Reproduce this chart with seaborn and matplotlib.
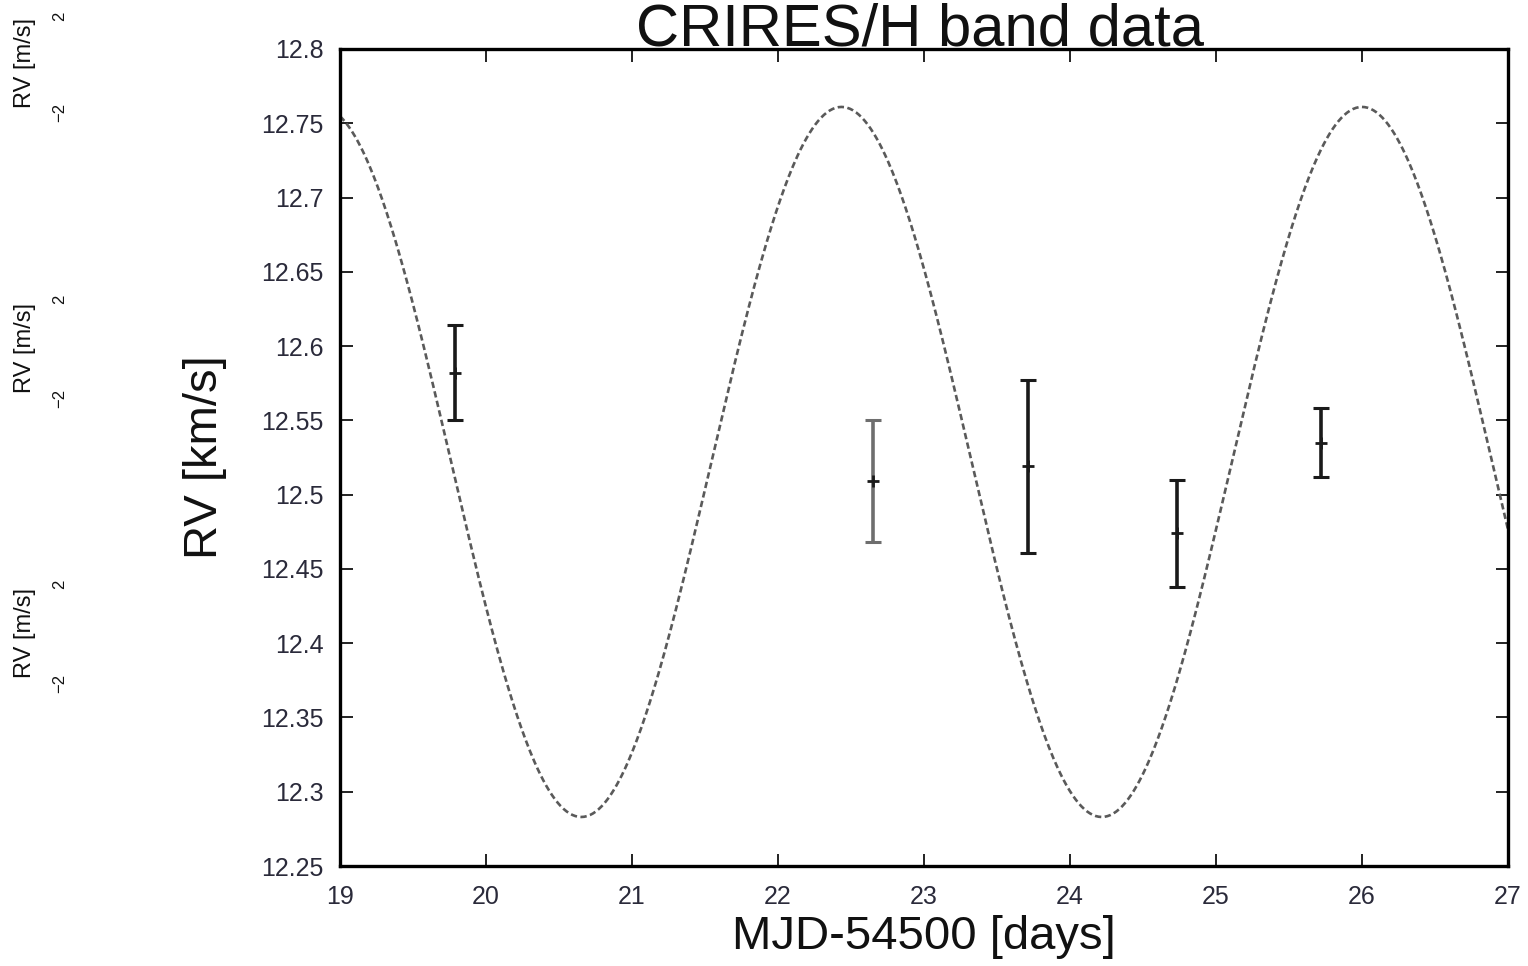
import numpy as np
import pandas as pd
import matplotlib
matplotlib.use("Agg")
import matplotlib.pyplot as plt
import seaborn as sns

# ---- data ----
obs_time = [19.79, 22.65, 23.71, 24.73, 25.72]          # MJD-54500 [days]
obs_rv = [12.582, 12.509, 12.519, 12.474, 12.535]      # RV [km/s]
obs_err = [0.032, 0.041, 0.058, 0.036, 0.023]          # km/s
obs_color = ["#1a1a1a", "#6e6e6e", "#1a1a1a", "#1a1a1a", "#1a1a1a"]

# sinusoidal orbit model
model_mean = 12.522
model_amp = 0.239
model_period = 3.565
model_tmax = 22.435

x_ticks = [19, 20, 21, 22, 23, 24, 25, 26, 27]
y_ticks = [12.25, 12.3, 12.35, 12.4, 12.45, 12.5, 12.55, 12.6, 12.65, 12.7, 12.75, 12.8]
y_ticklabels = ["12.25", "12.3", "12.35", "12.4", "12.45", "12.5", "12.55", "12.6",
                "12.65", "12.7", "12.75", "12.8"]

title = "CRIRES/H band data"
xlabel = "MJD-54500 [days]"
ylabel = "RV [km/s]"

# ---- style ----
sns.set_theme(style="white")
plt.rcParams["font.family"] = ["Liberation Sans", "DejaVu Sans"]

fig = plt.figure(figsize=(15.28, 9.66), dpi=100)
ax = fig.add_axes([340 / 1528, 1 - 866 / 966, (1508 - 340) / 1528, (866 - 49) / 966])

t = np.linspace(19, 27, 800)
model = pd.DataFrame({
    "t": t,
    "rv": model_mean + model_amp * np.cos(2 * np.pi * (t - model_tmax) / model_period),
})
sns.lineplot(data=model, x="t", y="rv", ax=ax, color="#5a5a5a", lw=1.9,
             linestyle=(0, (2.4, 1.3)), zorder=2)

obs = pd.DataFrame({"t": obs_time, "rv": obs_rv, "err": obs_err, "c": obs_color})
for _, r in obs.iterrows():
    ax.errorbar(r["t"], r["rv"], yerr=r["err"], fmt="none", ecolor=r["c"],
                elinewidth=2.6, capsize=6, capthick=2.2, zorder=3)
sns.scatterplot(data=obs, x="t", y="rv", ax=ax, marker="+", s=70,
                color="#1a1a1a", linewidth=2.0, legend=False, zorder=4)

ax.set_xlim(19, 27)
ax.set_ylim(12.25, 12.8)
ax.set_xticks(x_ticks)
ax.set_xticklabels([str(v) for v in x_ticks])
ax.set_yticks(y_ticks)
ax.set_yticklabels(y_ticklabels)

for s in ax.spines.values():
    s.set_visible(True)
    s.set_color("black")
    s.set_linewidth(2.4)

ax.tick_params(axis="both", which="major", direction="in", length=9, width=1.4,
               color="#222222", top=True, right=True, bottom=True, left=True,
               labelsize=18, labelcolor="#2a2a3a")
ax.tick_params(axis="x", pad=14)
ax.tick_params(axis="y", pad=12)

ax.set_xlabel(xlabel, fontsize=34, color="#111111", labelpad=4)
ax.set_ylabel(ylabel, fontsize=34, color="#111111", labelpad=24)
ax.grid(False)

fig.text(0.602, 1 - 46 / 966, title, fontsize=43, ha="center", va="baseline",
         color="#111111")

# cropped fragments of the neighbouring panel on the left edge
for yc, y2, ym2 in [(63, 16, 112), (348, 299, 398), (633, 584, 683)]:
    fig.text(25 / 1528, 1 - yc / 966, "RV [m/s]", rotation=90, fontsize=17,
             ha="center", va="center", color="#111111")
    fig.text(60 / 1528, 1 - y2 / 966, "2", rotation=90, fontsize=12,
             ha="center", va="center", color="#111111")
    fig.text(60 / 1528, 1 - ym2 / 966, "\u22122", rotation=90, fontsize=12,
             ha="center", va="center", color="#111111")

fig.savefig("out.png", dpi=100)
